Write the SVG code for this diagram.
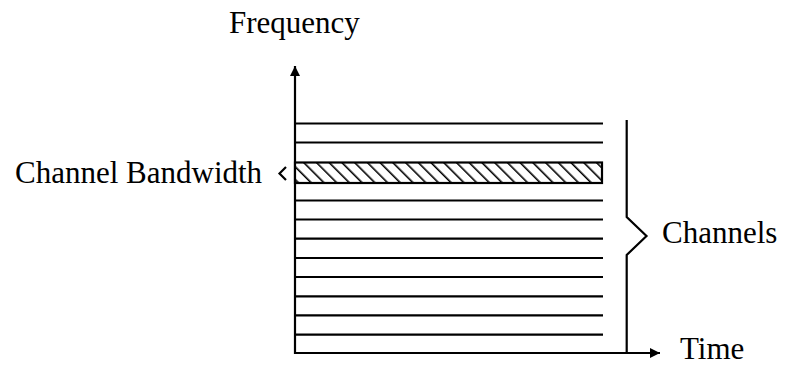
<svg xmlns="http://www.w3.org/2000/svg" width="788" height="366" viewBox="0 0 788 366">
  <defs>
    <pattern id="hatch" patternUnits="userSpaceOnUse" width="9" height="9" patternTransform="rotate(-45)">
      <rect width="9" height="9" fill="#fff"/>
      <line x1="0" y1="0" x2="0" y2="9" stroke="#000" stroke-width="3.2"/>
    </pattern>
    <marker id="arrow" markerUnits="userSpaceOnUse" markerWidth="12" markerHeight="12" refX="10" refY="5" orient="auto">
      <path d="M0,0 L10,5 L0,10 Z" fill="#000"/>
    </marker>
  </defs>
  <style>
    .lbl { font-family: "Liberation Serif", "Times New Roman", serif; font-size: 31px; fill: #000; }
    .ln { stroke: #000; stroke-width: 2.2; fill: none; }
  </style>
  <rect width="788" height="366" fill="#fff"/>

  <!-- axes -->
  <g id="axes">
    <line class="ln" x1="295" y1="354" x2="295" y2="66" marker-end="url(#arrow)"/>
    <line class="ln" x1="294" y1="353" x2="660" y2="353" marker-end="url(#arrow)"/>
  </g>

  <!-- channel lines -->
  <g id="channels">
    <line class="ln" x1="295" y1="123.5" x2="603" y2="123.5"/>
    <line class="ln" x1="295" y1="142.5" x2="603" y2="142.5"/>
    <line class="ln" x1="295" y1="200.5" x2="603" y2="200.5"/>
    <line class="ln" x1="295" y1="219.5" x2="603" y2="219.5"/>
    <line class="ln" x1="295" y1="238.7" x2="603" y2="238.7"/>
    <line class="ln" x1="295" y1="258" x2="603" y2="258"/>
    <line class="ln" x1="295" y1="277" x2="603" y2="277"/>
    <line class="ln" x1="295" y1="296.3" x2="603" y2="296.3"/>
    <line class="ln" x1="295" y1="315.3" x2="603" y2="315.3"/>
    <line class="ln" x1="295" y1="334.7" x2="603" y2="334.7"/>
  </g>

  <!-- highlighted channel -->
  <g id="bandwidth">
    <rect x="295" y="162.5" width="307" height="20.5" fill="url(#hatch)" stroke="#000" stroke-width="2.2"/>
    <polyline class="ln" points="286,167 279.5,173.5 286,180" stroke-width="1.6"/>
  </g>

  <!-- brace -->
  <g id="brace">
    <polyline class="ln" points="626.7,120 626.7,217 646.5,236 626.7,255 626.7,353"/>
  </g>

  <!-- labels -->
  <g id="labels">
    <text class="lbl" x="229" y="33">Frequency</text>
    <text class="lbl" x="15" y="183">Channel Bandwidth</text>
    <text class="lbl" x="662" y="243">Channels</text>
    <text class="lbl" x="680" y="359">Time</text>
  </g>
</svg>
